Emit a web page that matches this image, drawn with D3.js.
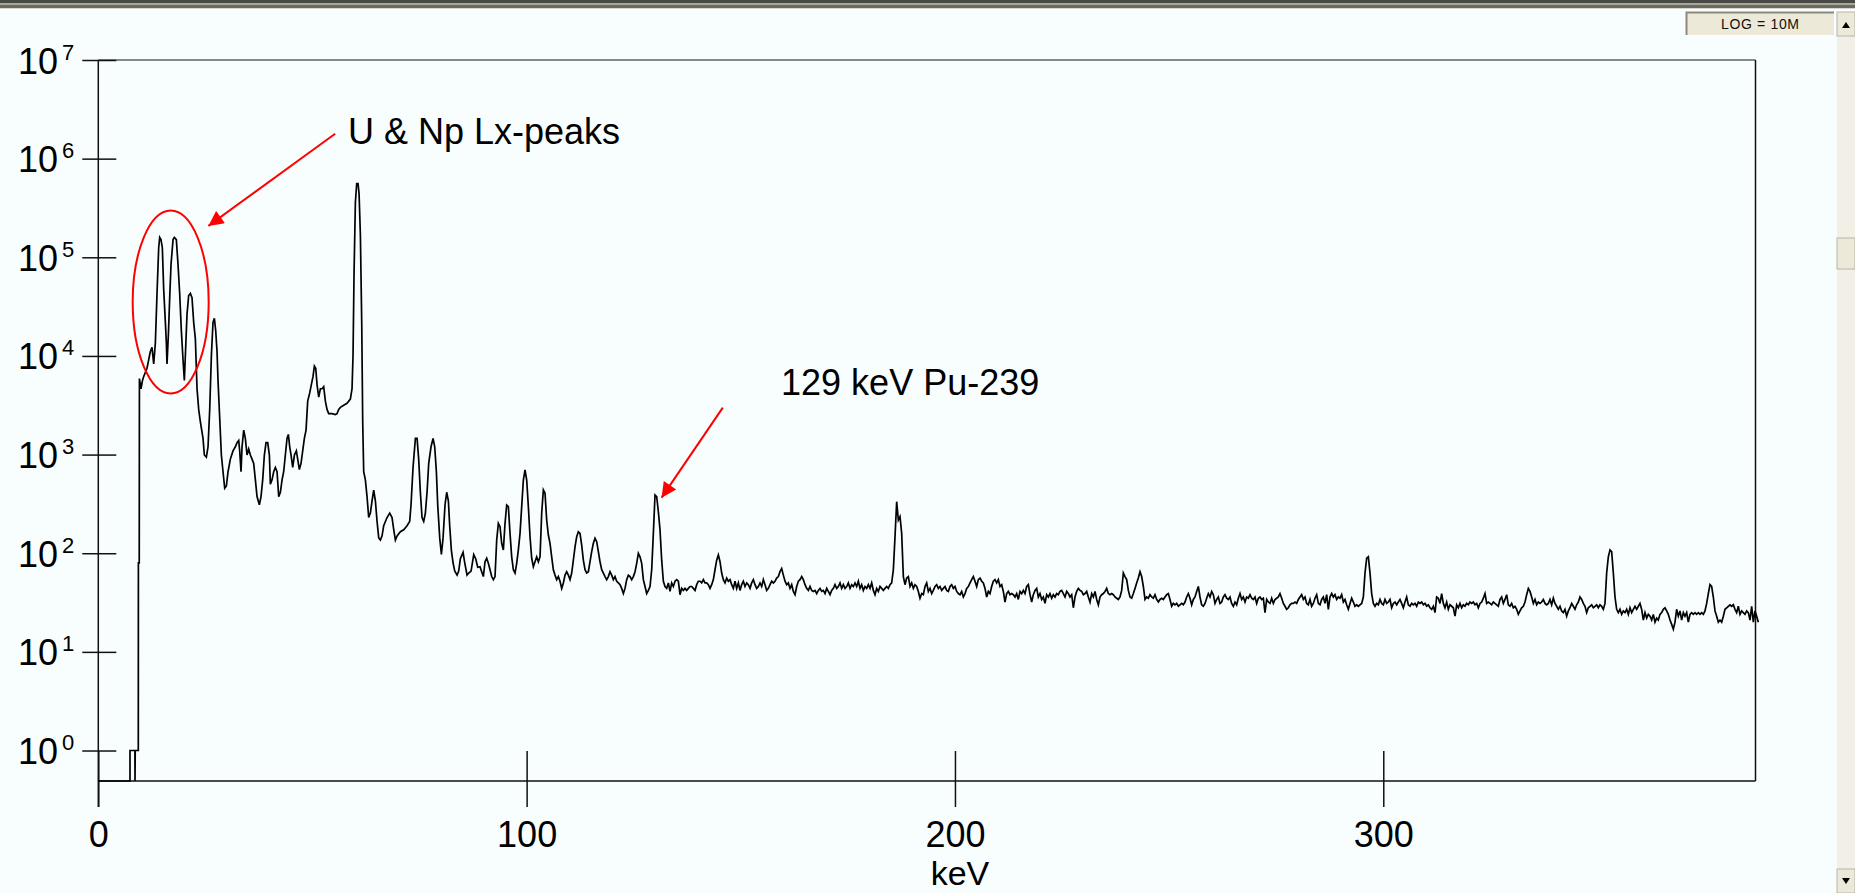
<!DOCTYPE html>
<html>
<head>
<meta charset="utf-8">
<script src="https://cdn.jsdelivr.net/npm/d3@7"></script>
<style>
  html, body { margin: 0; padding: 0; background: #f8fdfd; overflow: hidden; }
  svg { display: block; }
  text { font-family: "Liberation Sans", Arial, sans-serif; }
</style>
</head>
<body>
<svg id="chart" width="1855" height="893"></svg>
<script>
// ---- Gamma spectrum data -------------------------------------------------
// Low-energy part: [energy keV, counts] (L x-ray region and 59.5 keV line)
const lowEnergySpectrum = [
  [0,0],[7.40,0],[7.40,1],[8.55,1],[8.57,0],[8.62,1],[9.34,1],[9.36,80],[9.56,80],[9.60,5900],
  [9.97,4650],[10.3,5600],[10.6,6200],[11.37,7500],[12.15,11100],[12.54,12200],[12.93,8300],[13.32,13500],
  [13.71,43000],[14.10,125000],[14.33,159000],[14.64,151000],[14.95,125000],[15.27,47000],[15.66,21900],
  [15.89,13500],[16.04,8300],[16.36,16400],[16.67,39000],[16.98,85000],[17.45,151000],[17.76,159000],
  [18.22,151000],[18.61,85000],[19.00,43000],[19.39,18000],[19.78,9150],[20.09,5640],[20.40,12200],
  [20.71,26500],[21.10,41000],[21.49,43000],[21.88,39000],[22.27,21900],[22.66,14900],[23.05,4650],
  [23.44,2870],[23.83,2140],[24.45,1460],[24.76,990],[25.23,940],[25.62,1200],[26.01,2870],[26.40,10100],
  [26.78,21900],[27.10,24100],[27.41,18000],[27.72,11100],[27.95,5640],[28.34,2360],[28.73,990],[29.12,670],
  [29.51,455],[29.90,480],[30.29,670],[30.83,900],[31.45,1090],[32.00,1200],[32.39,1320],[32.78,1390],
  [33.01,1090],[33.32,670],[33.56,1200],[33.95,1770],[34.33,1460],[34.72,990],[35.11,1140],[35.50,990],
  [35.89,900],[36.28,815],[36.67,555],[37.06,375],[37.60,310],[37.99,375],[38.38,555],[38.77,990],
  [39.16,1320],[39.55,1320],[39.94,990],[40.17,500],[40.56,555],[40.95,670],[41.34,740],[41.73,670],
  [42.12,375],[42.51,415],[42.90,555],[43.28,670],[43.67,990],[44.06,1460],[44.37,1600],[44.69,1200],
  [45.00,990],[45.39,740],[45.78,990],[46.24,1090],[46.55,900],[46.94,705],[47.33,815],[47.72,1090],
  [48.11,1460],[48.50,1770],[48.89,3480],[49.36,4220],[49.74,5120],[50.13,6200],[50.45,7900],[50.76,7500],
  [51.07,5120],[51.46,3830],[51.85,4650],[52.24,4650],[52.62,4880],[53.01,3480],[53.40,2870],[53.79,2600],
  [54.57,2600],[55.35,2550],[55.74,2600],[56.13,2870],[56.52,3010],[57.29,3160],[58.07,3310],[58.85,3650],
  [59.24,4650],[59.47,10100],[59.71,70000],[60.02,362000],[60.33,560000],[60.64,560000],[60.88,440000],
  [61.19,167000],[61.50,21900],[61.73,2140],[61.96,670],[62.35,555],[62.74,375],[63.13,230],[63.52,255],
  [63.91,340],[64.30,435],[64.69,340],[65.08,210],[65.47,143],[65.86,136],[66.25,150],[66.63,190],
  [67.41,230],[68.03,255],[68.58,230],[68.97,173],[69.36,136],[69.75,150],[70.52,165],[71.30,173],
  [72.08,190],[72.70,210],[73.01,310],[73.48,740],[74.03,1460],[74.42,1460],[74.80,900],[75.19,415],
  [75.58,230],[75.97,210],[76.36,255],[76.75,415],[77.14,815],[77.68,1200],[78.15,1460],[78.54,1200],
  [78.93,670],[79.24,310],[79.71,143],[80.10,97],[80.49,143],[80.95,310],[81.34,415],[81.73,340],
  [82.04,190],[82.43,107],[82.82,80],[83.21,66],[83.76,60],[84.14,66],[84.53,88],[85.16,102],
  [85.55,80],[86.09,60],[86.48,63],[87.03,66],[87.65,97],[88.11,88],[88.58,72]
];

// Continuum part: counts per channel, channels of equal width starting at 89.12 keV
const continuumStartKeV = 89.12;
const keVPerChannel = 0.3891;

// 89 - 187 keV
const countsBand1 = [
  73,65,58,82,89,79,68,58,54,58, 136,201,186,126,108,201,308,297,159,92,
  68,63,79,108,159,297,552,698,552,297, 147,89,73,82,92,82,92,254,438,405,
  217,153,126,92,68,60,54,58,52,44, 50,60,65,60,54,63,85,116,147,165,
  159,121,85,68,63,65,82,104,126,142, 131,104,82,68,63,58,54,58,65,60,
  54,58,52,50,48,44,39,44,54,60, 58,54,58,65,79,100,92,79,54,46,
  39,42,46,68,159,389,374,264,172,85, 52,46,44,50,41,50,46,52,54,52,
  38,44,42,44,42,44,46,46,44,42, 48,52,52,50,54,50,50,48,44,48,
  54,68,85,96,82,63,54,50,56,52, 54,48,44,52,44,50,42,48,52,46,
  50,48,44,50,54,48,44,46,50,46, 54,48,42,44,48,52,50,52,56,58,
  65,70,60,52,48,50,44,48,41,38, 46,52,54,58,54,48,44,42,46,42,
  41,42,39,42,44,41,42,39,44,41, 38,42,44,48,44,46,50,44,48,44,
  46,50,44,48,46,50,46,52,44,48, 42,46,44,48,44,50,42,38,44,41,
  46,44,42,44,46,44,48,50,68,147, 333,217
];

// 187 - 285 keV
const countsBand2 = [
  235,159,58,48,56,58,46,50,44,48, 46,41,35,39,38,46,50,41,44,39,
  42,46,48,44,46,42,44,46,42,41, 46,48,44,46,41,39,38,41,36,39,
  44,46,50,54,58,52,46,54,56,52, 50,44,36,41,39,46,52,54,50,54,
  46,48,41,32,39,41,38,39,38,36, 39,34,41,39,42,39,46,48,38,32,
  38,42,44,36,39,34,36,31,38,36, 39,35,38,36,39,38,41,42,39,36,
  41,39,36,38,28,36,41,44,42,41, 38,39,41,36,32,39,36,41,34,30,
  36,38,39,41,44,39,38,39,38,36, 35,34,36,42,63,58,54,42,36,35,
  39,44,50,56,65,58,46,34,36,35, 38,36,35,38,34,32,34,35,34,36,
  38,39,34,29,31,30,31,29,30,31, 30,32,36,39,35,30,34,36,41,46,
  36,30,29,31,35,39,36,41,38,31, 34,36,31,32,36,38,35,34,36,31,
  29,32,30,35,39,34,36,32,36,35, 38,35,34,36,31,35,36,34,35,25,
  34,32,31,35,31,34,35,36,39,35, 31,29,27,28,30,31,31,32,31,34,
  36,38,34,36,31,30,34,29,31,35, 38,31
];

// 285 - 388 keV
const countsBand3 = [
  30,34,36,31,38,27,36,39,36,38, 34,36,35,38,32,34,30,27,31,35,
  32,29,30,29,30,31,36,63,89,92, 63,39,31,29,31,30,34,31,30,34,
  31,32,34,28,31,32,30,32,34,31, 28,32,36,30,29,31,30,31,29,32,
  31,32,30,31,29,30,28,27,29,25, 36,35,31,39,31,28,32,27,30,29,
  28,23,30,28,31,28,30,29,31,30, 32,31,32,30,31,28,31,32,35,39,
  31,32,31,30,32,31,30,29,34,36, 31,34,38,30,29,31,28,29,27,24,
  26,28,29,32,38,44,41,36,31,34, 30,32,31,32,34,31,30,31,34,30,
  35,31,29,27,29,26,25,27,23,26, 28,31,29,27,30,32,36,34,31,29,
  25,28,29,30,28,29,30,28,30,29, 27,31,63,92,108,104,63,36,27,25,
  27,24,26,25,27,24,28,25,27,29, 27,29,31,27,21,25,22,24,23,21,
  24,20,22,21,24,25,27,28,26,24, 21,19,17,20,27,23,26,21,25,23,
  25,20,24,25,24,25,24,25,24,25, 24,26,31,39,48,46,36,26,23,20,
  21,20,23,27,28,29,30,29,30,27, 25,29,24,26,25,24,26,25,21,29,
  20,26,23,20
];

// Axis ticks
const energyTicks = [0, 100, 200, 300];
const countExponents = [0, 1, 2, 3, 4, 5, 6, 7];

// Annotations (anchor points in data units: [keV, counts])
const lxEllipse = { center: [16.9, 35200], rx: 38, ry: 91.5 };
const lxArrow = { from: [55.3, 1.79e6], to: [25.7, 2.08e5] };
const lxLabel = { text: "U & Np Lx-peaks", at: [58.3, 1.4e6] };
const puArrow = { from: [145.8, 2990], to: [131.5, 366] };
const puLabel = { text: "129 keV Pu-239", at: [159.4, 4000] };

// ---- Build spectrum points ----------------------------------------------
const continuum = countsBand1.concat(countsBand2, countsBand3)
  .map((c, i) => [continuumStartKeV + i * keVPerChannel, c]);
const spectrum = lowEnergySpectrum.concat(continuum);

// ---- Layout -------------------------------------------------------------
const svg = d3.select("#chart");
const W = 1855, H = 893;
const plot = { left: 98.3, right: 1755.5, top: 60, bottom: 781 };

const x = d3.scaleLinear().domain([0, 386.9]).range([plot.left, plot.right]);
const y = d3.scaleLog().domain([Math.pow(10, -0.309), 1e7]).range([plot.bottom, plot.top]);

// Window chrome: title-bar strip at the top
const chrome = svg.append("g");
chrome.append("rect").attr("x", 0).attr("y", 0).attr("width", W).attr("height", 3).attr("fill", "#4a4a44");
chrome.append("rect").attr("x", 0).attr("y", 3).attr("width", W).attr("height", 2).attr("fill", "#a8a79c");
chrome.append("rect").attr("x", 0).attr("y", 5).attr("width", W).attr("height", 3).attr("fill", "#6b6a62");
chrome.append("rect").attr("x", 0).attr("y", 8).attr("width", W).attr("height", 1).attr("fill", "#d8d6cc");

// LOG scale indicator box
const logBox = svg.append("g");
logBox.append("rect").attr("x", 1686).attr("y", 12).attr("width", 148).attr("height", 23).attr("fill", "#ece9d8");
logBox.append("path").attr("d", "M1686.5,35 V12.5 H1834").attr("fill", "none").attr("stroke", "#8c8a80").attr("stroke-width", 2);
logBox.append("text").attr("x", 1760).attr("y", 29).attr("text-anchor", "middle")
  .attr("font-size", 14).attr("fill", "#111").attr("textLength", 78)
  .text("LOG = 10M");

// Scrollbar on the right
const sb = svg.append("g");
sb.append("rect").attr("x", 1837).attr("y", 12).attr("width", 18).attr("height", H - 12).attr("fill", "#f1efe6");
sb.append("rect").attr("x", 1837).attr("y", 12).attr("width", 18).attr("height", 24).attr("fill", "#ece9d8").attr("stroke", "#b8b5a8");
sb.append("path").attr("d", "M1842,28 L1846,22 L1850,28 Z").attr("fill", "#000");
sb.append("rect").attr("x", 1837).attr("y", 238).attr("width", 18).attr("height", 31).attr("fill", "#ece9d8").attr("stroke", "#b8b5a8");
sb.append("rect").attr("x", 1837).attr("y", 869).attr("width", 18).attr("height", 24).attr("fill", "#ece9d8").attr("stroke", "#b8b5a8");
sb.append("path").attr("d", "M1842,878 L1846,884 L1850,878 Z").attr("fill", "#000");

// ---- Frame --------------------------------------------------------------
const frame = svg.append("g").attr("fill", "none");
frame.append("line").attr("x1", plot.left).attr("x2", plot.right).attr("y1", plot.top).attr("y2", plot.top)
  .attr("stroke", "#5d6464").attr("stroke-width", 1.5);
frame.append("line").attr("x1", plot.right).attr("x2", plot.right).attr("y1", plot.top).attr("y2", plot.bottom)
  .attr("stroke", "#111").attr("stroke-width", 1.5);

// ---- Y axis (log counts) ------------------------------------------------
const yVals = countExponents.map(e => Math.pow(10, e));
const yAxisOut = d3.axisLeft(y).tickValues(yVals).tickSize(16).tickSizeOuter(0).tickFormat("");
const yAxisIn = d3.axisRight(y).tickValues(yVals).tickSize(18).tickSizeOuter(0).tickFormat("");
const gyo = svg.append("g").attr("transform", `translate(${plot.left},0)`).call(yAxisOut);
const gyi = svg.append("g").attr("transform", `translate(${plot.left},0)`).call(yAxisIn);
[gyo, gyi].forEach(g => {
  g.select(".domain").remove();
  g.selectAll(".tick line").attr("stroke", "#111").attr("stroke-width", 1.5);
});
gyo.selectAll(".tick").each(function (d) {
  const t = d3.select(this).append("text")
    .attr("x", -24).attr("y", 13).attr("text-anchor", "end")
    .attr("fill", "#000").attr("font-size", 36);
  t.append("tspan").text("10");
  t.append("tspan").attr("font-size", 22).attr("dx", 4).attr("dy", -14).text(Math.round(Math.log10(d)));
});
svg.append("line").attr("x1", plot.left).attr("x2", plot.left).attr("y1", plot.top).attr("y2", 807)
  .attr("stroke", "#111").attr("stroke-width", 1.5);

// ---- X axis (energy) ----------------------------------------------------
const xAxisDown = d3.axisBottom(x).tickValues(energyTicks).tickSize(26).tickSizeOuter(0).tickFormat(d3.format("d"));
const xAxisUp = d3.axisTop(x).tickValues(energyTicks).tickSize(30).tickSizeOuter(0).tickFormat("");
const gxd = svg.append("g").attr("transform", `translate(0,${plot.bottom})`).call(xAxisDown);
const gxu = svg.append("g").attr("transform", `translate(0,${plot.bottom})`).call(xAxisUp);
[gxd, gxu].forEach(g => {
  g.select(".domain").remove();
  g.selectAll(".tick line").attr("stroke", "#111").attr("stroke-width", 1.5);
});
gxd.selectAll(".tick text").attr("font-size", 36).attr("fill", "#000")
  .attr("font-family", "'Liberation Sans', Arial, sans-serif")
  .attr("y", 66).attr("dy", 0);
svg.append("line").attr("x1", plot.left).attr("x2", plot.right).attr("y1", plot.bottom).attr("y2", plot.bottom)
  .attr("stroke", "#111").attr("stroke-width", 1.5);

svg.append("text").attr("x", 960).attr("y", 885).attr("text-anchor", "middle")
  .attr("font-size", 34).attr("fill", "#000").text("keV");

// ---- Spectrum trace -----------------------------------------------------
const line = d3.line()
  .x(d => x(d[0]))
  .y(d => d[1] > 0 ? y(d[1]) : plot.bottom);
svg.append("path").datum(spectrum)
  .attr("d", line)
  .attr("fill", "none").attr("stroke", "#000").attr("stroke-width", 1.7)
  .attr("stroke-linejoin", "miter");

// ---- Annotations --------------------------------------------------------
const red = "#ff0000";
const defs = svg.append("defs");
defs.append("marker").attr("id", "arrowhead").attr("viewBox", "0 0 10 10")
  .attr("refX", 10).attr("refY", 5).attr("markerWidth", 9).attr("markerHeight", 7.5)
  .attr("markerUnits", "strokeWidth").attr("orient", "auto")
  .append("path").attr("d", "M0,0 L10,5 L0,10 Z").attr("fill", red);

svg.append("ellipse")
  .attr("cx", x(lxEllipse.center[0])).attr("cy", y(lxEllipse.center[1]))
  .attr("rx", lxEllipse.rx).attr("ry", lxEllipse.ry)
  .attr("fill", "none").attr("stroke", red).attr("stroke-width", 2);

[lxArrow, puArrow].forEach(a => {
  svg.append("line")
    .attr("x1", x(a.from[0])).attr("y1", y(a.from[1]))
    .attr("x2", x(a.to[0])).attr("y2", y(a.to[1]))
    .attr("stroke", red).attr("stroke-width", 2)
    .attr("marker-end", "url(#arrowhead)");
});

[lxLabel, puLabel].forEach(l => {
  svg.append("text").attr("x", x(l.at[0])).attr("y", y(l.at[1]))
    .attr("font-size", 36).attr("fill", "#000").text(l.text);
});
</script>
</body>
</html>
